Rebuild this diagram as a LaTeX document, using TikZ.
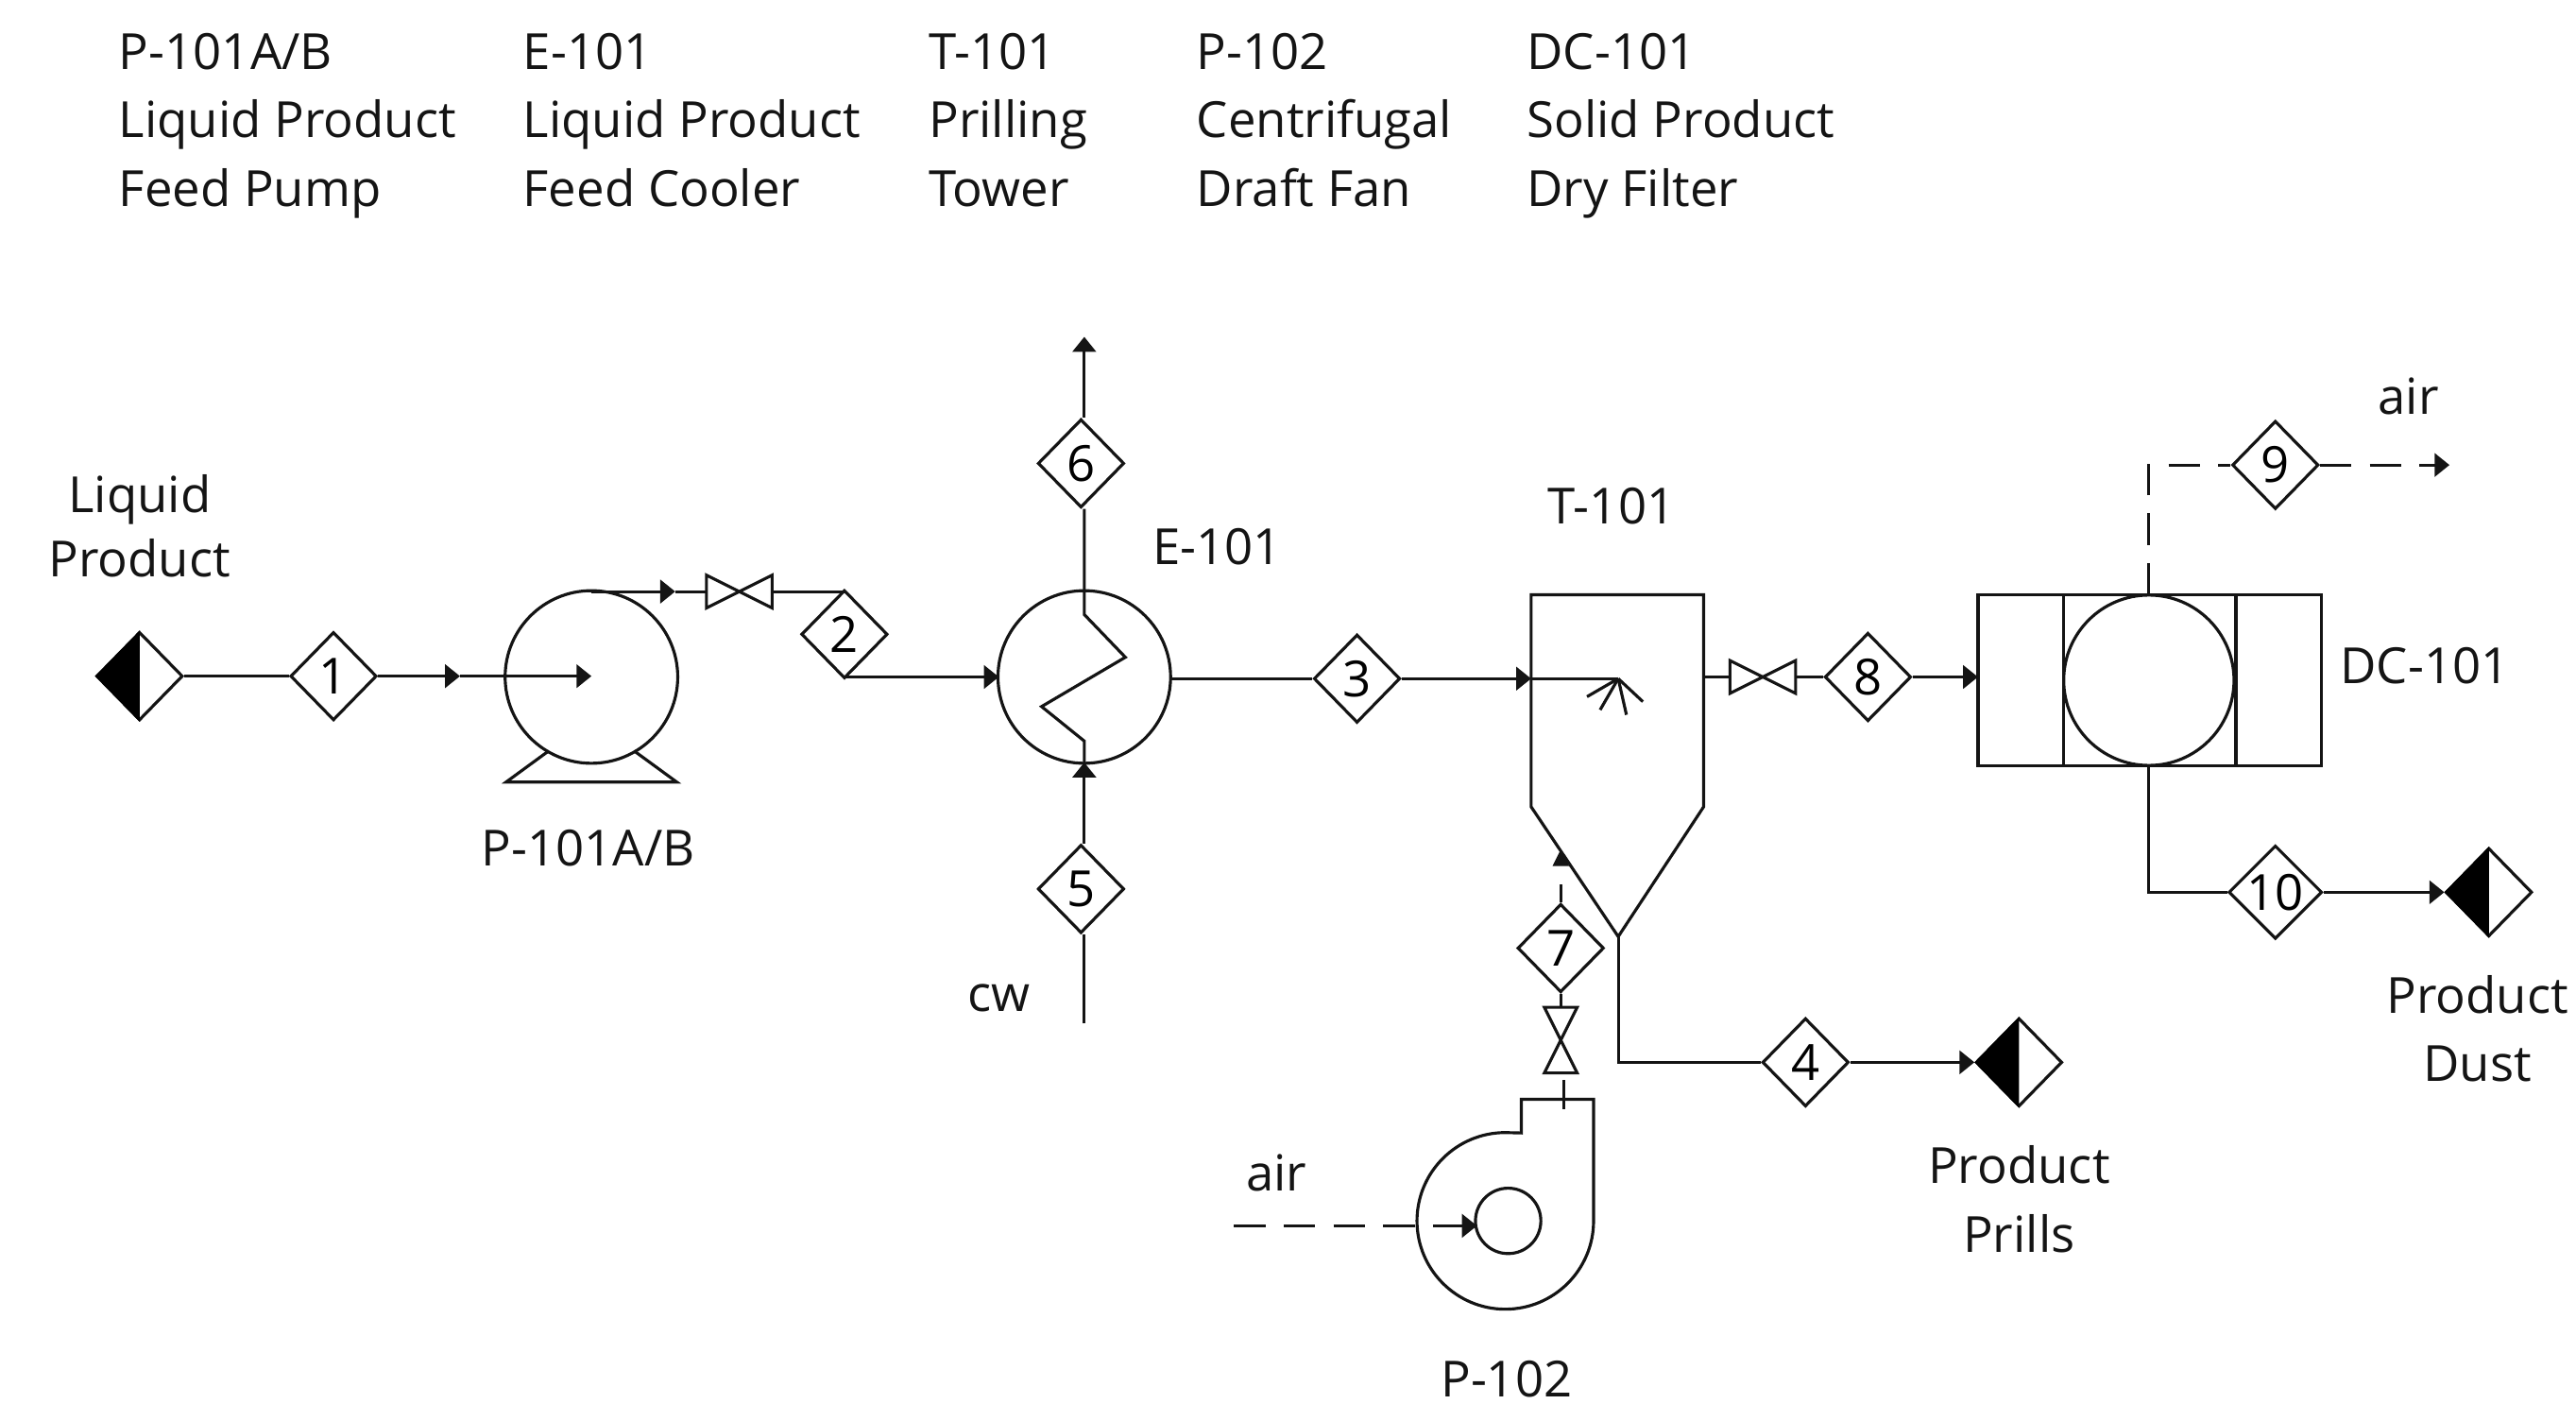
\documentclass[tikz,border=0pt]{standalone}
\usepackage{fontspec}
\setmainfont{Open Sans}
\usetikzlibrary{shapes.geometric,arrows.meta}
\definecolor{ink}{gray}{0.08}
\tikzset{
  x=0.017392cm,y=-0.017392cm,
  pipe/.style={line width=0.9pt,draw=ink},
  air/.style={pipe,dash pattern=on 9.5pt off 5.5pt},
  tip/.style={-{Triangle[length=4.5pt,width=7pt]}},
  stream/.style={shape=diamond,draw=ink,line width=0.9pt,fill=white,inner sep=0pt,minimum width=26pt,minimum height=26.6pt,font=\fontsize{15}{18}\selectfont},
  term/.style={stream},
  vessel/.style={shape=circle,draw=ink,line width=0.9pt,inner sep=0pt},
  label/.style={text=ink,inner sep=0pt,align=center,font=\fontsize{15}{20.7}\selectfont},
  listing/.style={text=ink,inner sep=0pt,align=left,anchor=west,font=\fontsize{15}{20.7}\selectfont},
  hvalve/.pic={\coordinate (-w) at (-20,0);\coordinate (-e) at (20,0);
    \draw[pipe] (-20,-10) -- (20,10) -- (20,-10) -- (-20,10) -- cycle;},
  vvalve/.pic={\coordinate (-n) at (0,-20);\coordinate (-s) at (0,20);
    \draw[pipe] (-10,-20) -- (10,20) -- (-10,20) -- (10,-20) -- cycle;},
}
\begin{document}
\begin{tikzpicture}
\useasboundingbox (0,0) rectangle (1568,854);
% equipment list
\node[listing] (lista) at (72,75.5) {\strut P-101A/B\\Liquid Product\\\strut Feed Pump};
\node[listing] (listb) at (318,75.5) {\strut E-101\\Liquid Product\\\strut Feed Cooler};
\node[listing] (listc) at (565,75.5) {\strut T-101\\Prilling\\\strut Tower};
\node[listing] (listd) at (728,75.5) {\strut P-102\\Centrifugal\\\strut Draft Fan};
\node[listing] (liste) at (929,75.5) {\strut DC-101\\Solid Product\\\strut Dry Filter};
% labels
\node[label,font=\fontsize{15}{19.2}\selectfont] (lliq) at (85,320) {Liquid\\Product};
\node[label] (lp101) at (358,516) {P-101A/B};
\node[label] (le101) at (741,333) {E-101};
\node[label] (lt101) at (981,308) {T-101};
\node[label] (ldc) at (1476,405) {DC-101};
\node[label] (lcw) at (608,607.5) {cw};
\node[label] (lair1) at (777,714) {air};
\node[label] (lair2) at (1466,241) {air};
\node[label] (lp102) at (917,839) {P-102};
\node[label] (lprills) at (1229,730) {Product\\Prills};
\node[label] (ldust) at (1508,626) {Product\\Dust};
% pump
\node[vessel,minimum size=52pt] (pump) at (360,412) {};
\coordinate (pumpc) at (360,412);
\coordinate (pumpout) at (360,359.5);
\draw[pipe] (334,457) -- (308,476) -- (412,476) -- (386,457);
% cooler
\node[vessel,minimum size=52pt] (cool) at (660,412) {};
\coordinate (coolin) at (608,412);
\coordinate (coolout) at (713,412);
\coordinate (z1) at (660,374);
\coordinate (z2) at (685,400);
\coordinate (z3) at (634,430);
\coordinate (z4) at (660,451);
% tower
\draw[pipe] (932,362) -- (1037,362) -- (1037,491) -- (985,570) -- (932,491) -- cycle;
\coordinate (twin) at (932,413);
\coordinate (twout) at (1037,412);
\coordinate (spray) at (985,413);
\coordinate (twbot) at (985,570);
\draw[pipe] (spray) -- (1000,427);
\draw[pipe] (spray) -- (990,435);
\draw[pipe] (spray) -- (974,432);
\draw[pipe] (spray) -- (966,424);
% dry filter
\draw[pipe] (1204,362) rectangle (1413,466);
\draw[pipe] (1256,362) -- (1256,466);
\draw[pipe] (1361,362) -- (1361,466);
\node[vessel,minimum size=51.3pt] (drum) at (1308,414) {};
\coordinate (dcin) at (1204,412);
\coordinate (dctop) at (1308,362);
\coordinate (dcbot) at (1308,466);
% fan
\draw[pipe] (970,743) arc[start angle=0,end angle=-270,radius=26.6pt] -- (926,689.5) -- (926,669) -- (970,669) -- cycle;
\node[vessel,minimum size=19.7pt] (imp) at (918,743) {};
\coordinate (fanout) at (952,675);
\coordinate (fanin) at (751,746);
% stream tags
\node[stream] (s1) at (203,411.5) {1};
\node[stream] (s2) at (514,386) {2};
\node[stream] (s3) at (826,413) {3};
\node[stream] (s4) at (1099,646.5) {4};
\node[stream] (s5) at (658,541) {5};
\node[stream] (s6) at (658,282) {6};
\node[stream] (s7) at (950,577) {7};
\node[stream] (s8) at (1137,412) {8};
\node[stream] (s9) at (1385,283) {9};
\node[stream] (s10) at (1385,543) {10};
% terminals
\node[term] (tin) at (85,411.5) {};
\node[term] (tprills) at (1229,646.5) {};
\node[term] (tdust) at (1515,543) {};
\foreach \t in {tin,tprills,tdust}
  \fill[black] (\t.north) -- (\t.west) -- (\t.south) -- cycle;
% valves
\pic (v1) at (450,360) {hvalve};
\pic (v2) at (1073,412) {hvalve};
\pic (v3) at (950,633) {vvalve};
% connectors
\coordinate (m1) at (280,411.5);
\draw[pipe] (tin.east) -- (s1.west);
\draw[pipe,tip] (s1.east) -- (m1);
\draw[pipe,tip] (m1) -- (pumpc |- m1);
\coordinate (m2) at (411,360);
\draw[pipe,tip] (pumpout |- m2) -- (m2);
\draw[pipe] (m2) -- (v1-w);
\draw[pipe] (v1-e) -- (s2.north |- v1-e);
\draw[pipe,tip] (s2.south |- coolin) -- (coolin);
\draw[pipe] (coolout |- s3.west) -- (s3.west);
\draw[pipe,tip] (s3.east) -- (twin);
\draw[pipe] (twin) -- (spray);
\draw[pipe] (twout) -- (v2-w);
\draw[pipe] (v2-e) -- (s8.west);
\draw[pipe,tip] (s8.east) -- (dcin);
\coordinate (lift) at (660,623);
\coordinate (coolbot) at (660,464);
\coordinate (cooltop) at (660,359);
\coordinate (topend) at (660,205);
\draw[pipe] (lift) -- (lift |- s5.south);
\draw[pipe,tip] (lift |- s5.north) -- (coolbot);
\draw[pipe] (coolbot) -- (z4) -- (z3) -- (z2) -- (z1) -- (cooltop) -- (cooltop |- s6.south);
\draw[pipe,tip] (cooltop |- s6.north) -- (topend);
\coordinate (b4) at (985,646.5);
\draw[pipe] (twbot) -- (b4) -- (s4.west);
\draw[pipe,tip] (s4.east) -- (tprills.west);
\coordinate (t7) at (950,517);
\coordinate (t7a) at (950,538);
\draw[pipe] (s7.north) -- (t7a);
\path[fill=ink] (t7) -- (945,527) -- (955,527) -- cycle;
\draw[pipe] (s7.south) -- (v3-n);
\draw[pipe] (fanout) -- (952,657);
\draw[air,tip] (fanin) -- (899,746);
\coordinate (b9) at (1308,283);
\coordinate (e9) at (1491,283);
\draw[air] (dctop) -- (b9) -- (s9.west);
\draw[air,tip] (s9.east) -- (e9);
\coordinate (b10) at (1308,543);
\draw[pipe] (dcbot) -- (b10) -- (s10.west);
\draw[pipe,tip] (s10.east) -- (tdust.west);
\end{tikzpicture}
\end{document}
